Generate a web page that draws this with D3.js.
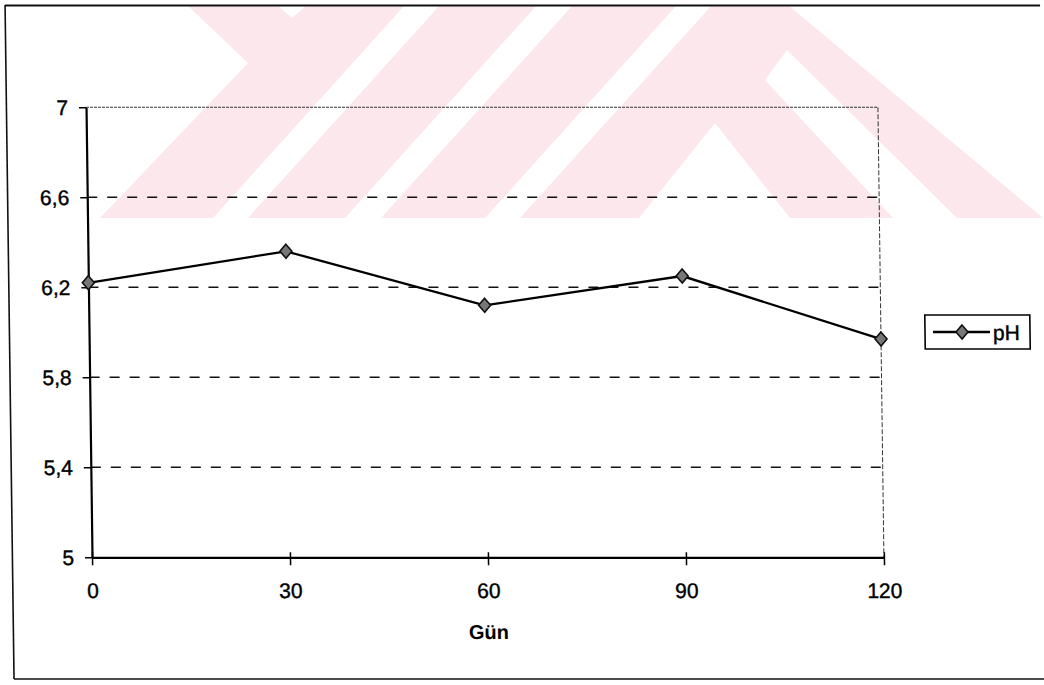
<!DOCTYPE html>
<html>
<head>
<meta charset="utf-8">
<script src="https://cdn.jsdelivr.net/npm/d3@7"></script>
<style>
  html, body { margin: 0; padding: 0; background: #fff; }
  svg { display: block; }
  text { font-family: "Liberation Sans", Arial, sans-serif; }
</style>
</head>
<body>
<script>
// pH over storage days
const days = [0, 30, 60, 90, 120];
const phValues = [6.22, 6.36, 6.12, 6.25, 5.97];
const yTickValues = [5, 5.4, 5.8, 6.2, 6.6, 7];
const gridValues = [5.4, 5.8, 6.2, 6.6];
const seriesName = "pH";
const xTitle = "Gün";

const W = 1044, H = 685;
const svg = d3.select("body").append("svg").attr("width", W).attr("height", H);

// faint pink emblem behind the top of the page
const emblem = svg.append("g").attr("fill", "#fce8ec").attr("stroke", "none");
const emblemShapes = [
  [[187,5],[277,5],[292,18],[307,5],[405,5],[213,218],[100,218],[248,63]],
  [[440,5],[537,5],[345,218],[248,218]],
  [[573,5],[677,5],[485,218],[381,218]]
];
emblemShapes.forEach(pts => emblem.append("path").attr("d", d3.line()(pts) + "Z"));
const aOuter = [[712,5],[788,5],[1043,218],[520,218]];
const aHole = [[639,218],[715,123],[790,218]];
const aStripe = [[787,50],[957,218],[893,218],[765,80]];
emblem.append("path")
  .attr("fill-rule", "evenodd")
  .attr("d", [aOuter, aHole, aStripe].map(p => d3.line()(p) + "Z").join(""));

// the printed chart sits on a slightly sheared page
const shear = 0.0133;
const chart = svg.append("g")
  .attr("transform", `skewX(${Math.atan(shear) * 180 / Math.PI})`);

// outer chart frame
const frame = chart.append("g").attr("stroke", "#111").attr("stroke-width", 1.6).attr("fill", "none");
frame.append("line").attr("x1", 5).attr("y1", 5.5).attr("x2", 1040).attr("y2", 5.5).attr("stroke-width", 2);
frame.append("line").attr("x1", 5).attr("y1", 5).attr("x2", 5).attr("y2", 679);
frame.append("line").attr("x1", 5).attr("y1", 679).attr("x2", 1040).attr("y2", 679);

const x = d3.scaleLinear().domain([0, 120]).range([84.6, 876.5]);
const y = d3.scaleLinear().domain([5, 7]).range([557.3, 107.3]);

const comma = d3.formatLocale({ decimal: ",", thousands: ".", grouping: [3], currency: ["", ""] }).format(".1~f");

// horizontal dashed gridlines
chart.append("g").selectAll("line").data(gridValues).join("line")
  .attr("x1", x(0)).attr("x2", x(120))
  .attr("y1", d => y(d)).attr("y2", d => y(d))
  .attr("stroke", "#111").attr("stroke-width", 1.5)
  .attr("stroke-dasharray", "10,10");

// plot area top and right edges
chart.append("line")
  .attr("x1", x(0)).attr("x2", x(120)).attr("y1", y(7)).attr("y2", y(7))
  .attr("stroke", "#333").attr("stroke-width", 1).attr("stroke-dasharray", "3,1");
chart.append("line")
  .attr("x1", x(120)).attr("x2", x(120)).attr("y1", y(7)).attr("y2", y(5))
  .attr("stroke", "#333").attr("stroke-width", 1).attr("stroke-dasharray", "5,2");

const labelStyle = sel => sel
  .attr("font-size", 21).attr("fill", "#000")
  .attr("stroke", "#000").attr("stroke-width", 0.4)
  .style("font-family", "'Liberation Sans', Arial, sans-serif");

// y axis
const yAxis = chart.append("g")
  .attr("transform", `translate(${x(0)},0)`)
  .call(d3.axisLeft(y).tickValues(yTickValues).tickFormat(comma).tickSize(7).tickSizeOuter(0).tickPadding(11));
yAxis.select(".domain").attr("stroke", "#000").attr("stroke-width", 2.2);
yAxis.selectAll(".tick line").attr("stroke", "#000").attr("stroke-width", 1.5);
yAxis.selectAll(".tick text").call(labelStyle);

// x axis
const xAxis = chart.append("g")
  .attr("transform", `translate(0,${y(5)})`)
  .call(d3.axisBottom(x).tickValues(days).tickSize(8).tickSizeOuter(0).tickPadding(18));
xAxis.select(".domain").attr("stroke", "#000").attr("stroke-width", 2.2);
xAxis.selectAll(".tick line").attr("y1", -5).attr("y2", 8).attr("stroke", "#000").attr("stroke-width", 1.5);
xAxis.selectAll(".tick text").call(labelStyle);

// axis title
chart.append("text")
  .attr("x", (x(0) + x(120)) / 2).attr("y", 639)
  .attr("text-anchor", "middle").attr("font-size", 20).attr("font-weight", "bold")
  .text(xTitle);

// series line and diamond markers
const data = days.map((d, i) => ({ day: d, ph: phValues[i] }));
chart.append("path").datum(data)
  .attr("fill", "none").attr("stroke", "#000").attr("stroke-width", 2.3)
  .attr("d", d3.line().x(d => x(d.day)).y(d => y(d.ph)));

const diamond = "M0,-7L6,0L0,7L-6,0Z";
chart.append("g").selectAll("path").data(data).join("path")
  .attr("transform", d => `translate(${x(d.day)},${y(d.ph)})`)
  .attr("d", diamond)
  .attr("fill", "#777").attr("stroke", "#111").attr("stroke-width", 1.6);

// legend
const legend = chart.append("g").attr("transform", "translate(920.6,315)");
legend.append("rect").attr("width", 105).attr("height", 34)
  .attr("fill", "#fff").attr("stroke", "#000").attr("stroke-width", 1.6);
legend.append("line").attr("x1", 8).attr("x2", 65).attr("y1", 17).attr("y2", 17)
  .attr("stroke", "#000").attr("stroke-width", 2.3);
legend.append("path").attr("transform", "translate(37,17)").attr("d", diamond)
  .attr("fill", "#777").attr("stroke", "#111").attr("stroke-width", 1.6);
legend.append("text").attr("x", 68).attr("y", 25).text(seriesName).call(labelStyle);
</script>
</body>
</html>
